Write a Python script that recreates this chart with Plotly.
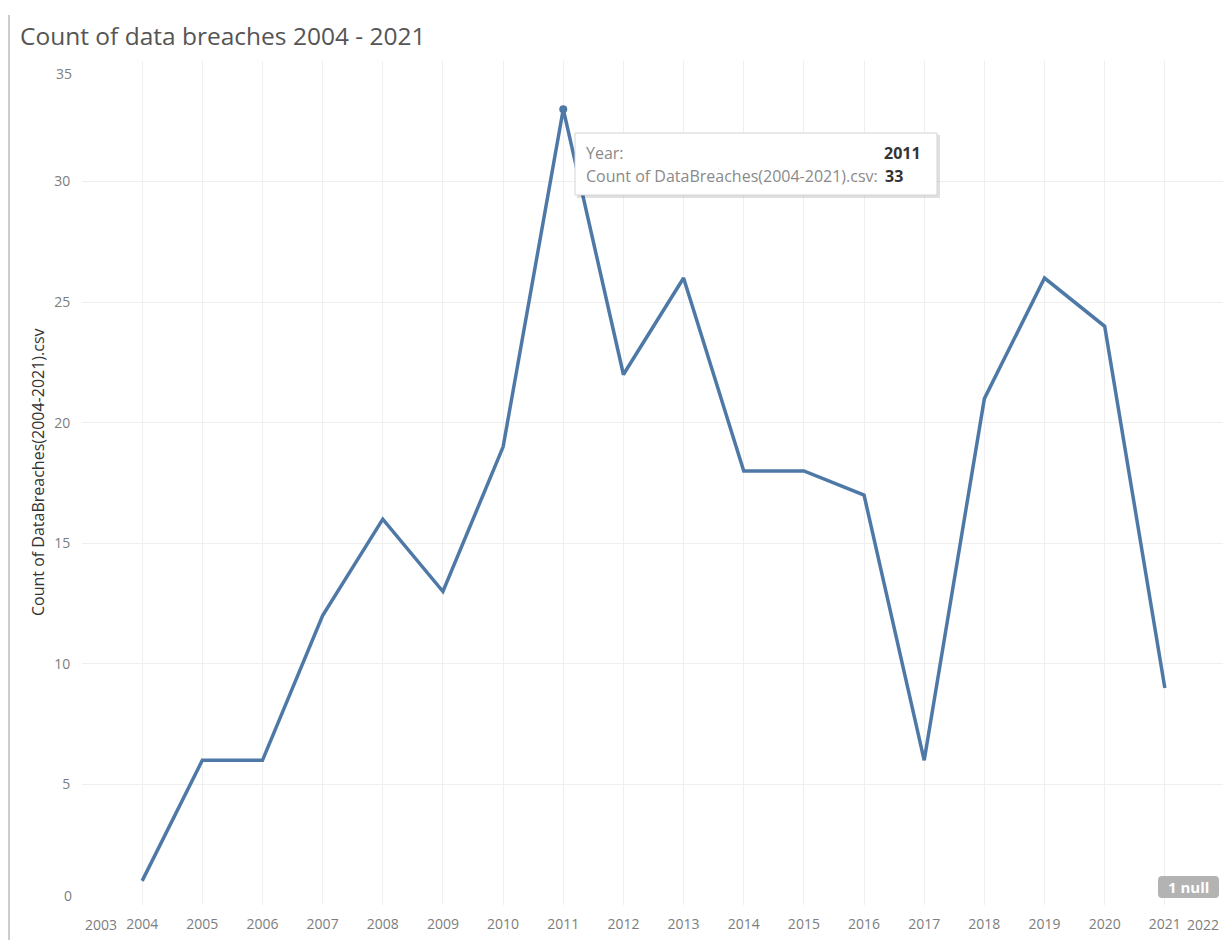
import plotly.graph_objects as go

years = list(range(2004, 2022))
counts = [1, 6, 6, 12, 16, 13, 19, 33, 22, 26, 18, 18, 17, 6, 21, 26, 24, 9]
x_ticks = list(range(2003, 2023))
y_ticks = [0, 5, 10, 15, 20, 25, 30, 35]
title_text = "Count of data breaches 2004 - 2021"
y_title = "Count of DataBreaches(2004-2021).csv"
hover_year = 2011
hover_count = 33

# the page body adds an 8px margin, so the figure starts at (8, 8) of the window
OFF = 8
W, H = 1231 - OFF, 940 - OFF
PL, PR, PT, PB = 82, 1225, 61, 905          # plot area in window pixels
L, R, T, B = PL - OFF, W - (PR - OFF), PT - OFF, H - (PB - OFF)
PW, PH = PR - PL, PB - PT

def px(x):
    return (x - PL) / PW

def py(y):
    return (PB - y) / PH

FONT = "Open Sans"
BLUE = "#4e79a7"
TICK = "#7d7d7d"

fig = go.Figure()
fig.add_trace(go.Scatter(x=years, y=counts, mode="lines",
                         line=dict(color=BLUE, width=3.5), hoverinfo="skip", cliponaxis=False))
fig.add_trace(go.Scatter(x=[hover_year], y=[counts[years.index(hover_year)]], mode="markers",
                         marker=dict(color=BLUE, size=8), hoverinfo="skip", cliponaxis=False))

xt_text = [str(v) if v not in (x_ticks[0], x_ticks[-1]) else "" for v in x_ticks]
yt_text = [str(v) if v not in (y_ticks[0], y_ticks[-1]) else "" for v in y_ticks]

fig.update_layout(
    width=W, height=H,
    margin=dict(l=L, r=R, t=T, b=B, pad=0, autoexpand=False),
    paper_bgcolor="white", plot_bgcolor="white",
    showlegend=False,
    font=dict(family=FONT, color=TICK, size=14),
    xaxis=dict(range=[x_ticks[0], x_ticks[-1]], tickvals=x_ticks, ticktext=xt_text,
               automargin=False,
               showgrid=True, gridcolor="#efefef", gridwidth=1, zeroline=False,
               showline=False, ticks="outside", ticklen=6, tickcolor="white",
               tickfont=dict(size=14, color=TICK)),
    yaxis=dict(range=[y_ticks[0], y_ticks[-1]], tickvals=y_ticks, ticktext=yt_text,
               automargin=False,
               showgrid=True, gridcolor="#efefef", gridwidth=1, zeroline=False,
               showline=False, ticks="outside", ticklen=8, tickcolor="white",
               tickfont=dict(size=14, color=TICK)),
)

ann = []
# title
ann.append(dict(text=title_text, xref="paper", yref="paper", x=px(18), y=py(35),
                xanchor="left", yanchor="middle", showarrow=False,
                font=dict(family=FONT, size=24.5, color="#555555")))
# y axis title
ann.append(dict(text=y_title, xref="paper", yref="paper", x=px(38), y=py(472),
                xanchor="center", yanchor="middle", showarrow=False, textangle=-90,
                font=dict(size=16, color="#333333")))
# edge tick labels (nudged inward)
ann.append(dict(text=str(x_ticks[0]), xref="paper", yref="paper", x=px(101), y=py(924),
                xanchor="center", yanchor="middle", showarrow=False, font=dict(size=14, color=TICK)))
ann.append(dict(text=str(x_ticks[-1]), xref="paper", yref="paper", x=px(1203), y=py(924),
                xanchor="center", yanchor="middle", showarrow=False, font=dict(size=14, color=TICK)))
ann.append(dict(text=str(y_ticks[-1]), xref="paper", yref="paper", x=px(74), y=py(73),
                xanchor="right", yanchor="middle", showarrow=False, font=dict(size=14, color=TICK)))
ann.append(dict(text=str(y_ticks[0]), xref="paper", yref="paper", x=px(74), y=py(895),
                xanchor="right", yanchor="middle", showarrow=False, font=dict(size=14, color=TICK)))

# tooltip
ann.append(dict(text="Year:", xref="paper", yref="paper", x=px(584), y=py(153),
                xanchor="left", yanchor="middle", showarrow=False, font=dict(size=16, color="#8a8a8a")))
ann.append(dict(text="<b>%d</b>" % hover_year, xref="paper", yref="paper", x=px(923), y=py(153),
                xanchor="right", yanchor="middle", showarrow=False, font=dict(size=16, color="#333333")))
ann.append(dict(text=y_title + ":", xref="paper", yref="paper", x=px(584), y=py(176),
                xanchor="left", yanchor="middle", showarrow=False, font=dict(size=16, color="#8a8a8a")))
ann.append(dict(text="<b>%d</b>" % hover_count, xref="paper", yref="paper", x=px(883), y=py(176),
                xanchor="left", yanchor="middle", showarrow=False, font=dict(size=16, color="#333333")))
# null badge
ann.append(dict(text="<b>1 null</b>", xref="paper", yref="paper", x=px(1188.5), y=py(887),
                xanchor="center", yanchor="middle", showarrow=False, font=dict(size=15, color="white")))

def rounded_rect(x0, y0, x1, y1, r):
    # coordinates in window pixels -> paper path
    X = lambda v: "%.5f" % px(v)
    Y = lambda v: "%.5f" % py(v)
    return ("M %s,%s L %s,%s Q %s,%s %s,%s L %s,%s Q %s,%s %s,%s L %s,%s Q %s,%s %s,%s "
            "L %s,%s Q %s,%s %s,%s Z") % (
        X(x0 + r), Y(y0), X(x1 - r), Y(y0), X(x1), Y(y0), X(x1), Y(y0 + r),
        X(x1), Y(y1 - r), X(x1), Y(y1), X(x1 - r), Y(y1),
        X(x0 + r), Y(y1), X(x0), Y(y1), X(x0), Y(y1 - r),
        X(x0), Y(y0 + r), X(x0), Y(y0), X(x0 + r), Y(y0))

shapes = []
# left border
shapes.append(dict(type="line", xref="paper", yref="paper", x0=px(9), x1=px(9), y0=py(15), y1=py(940),
                   line=dict(color="#bdbdbd", width=1.5)))
# tooltip shadow + box
shapes.append(dict(type="rect", xref="paper", yref="paper", x0=px(577), x1=px(940), y0=py(135), y1=py(198),
                   line=dict(width=0), fillcolor="rgba(0,0,0,0.12)", layer="above"))
shapes.append(dict(type="rect", xref="paper", yref="paper", x0=px(575), x1=px(937), y0=py(133), y1=py(195),
                   line=dict(color="#d4d4d4", width=1), fillcolor="white", layer="above"))
# null badge
shapes.append(dict(type="path", xref="paper", yref="paper", path=rounded_rect(1158, 876, 1219, 898, 4),
                   line=dict(width=0), fillcolor="#b3b3b3", layer="above"))

fig.update_layout(annotations=ann, shapes=shapes)
fig.write_html("out.html")
